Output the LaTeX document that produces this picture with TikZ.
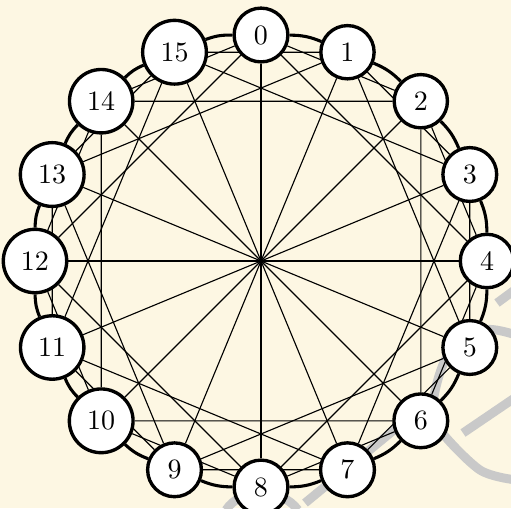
\documentclass[tikz,border=0pt]{standalone}
\usepackage{tikz}
\usetikzlibrary{backgrounds}
\usepackage{xcolor}
\definecolor{Cream}{HTML}{FDF7E3}
\definecolor{Stamp}{HTML}{C9C9C9}

\begin{document}
\begin{tikzpicture}[x=0.357pt,y=0.357pt,
    vertex/.style={circle,draw,very thick,fill=white,inner sep=3.8pt},
    ring/.style={line width=1.1pt},
    chord/.style={thin},
    stamp/.style={draw=Stamp,line width=3.2pt}]
    \useasboundingbox (-261,-247) rectangle (250,261);
    % vertices
    \foreach \i in {0,...,15}
      \node[vertex] (n\i) at ({90-22.5*\i}:226) {\i};
    \begin{scope}[on background layer]
      % page and watermark strokes
      \fill[Cream] (-261,-247) rectangle (250,261);
      \begin{scope}
        \clip (-261,-247) rectangle (250,261);
        \path[stamp] (-35,-249) .. controls (-20,-226) and (20,-226) .. (37,-249);
        \path[stamp] (44,-242) -- (139,-164);
        \path[stamp] plot[smooth] coordinates {(255,-74) (222,-69) (186,-96) (172,-142) (179,-169) (219,-209) (255,-219)};
        \path[stamp] (255,-136) -- (202,-172);
        \path[stamp] (255,-28) -- (236,-42);
      \end{scope}
      % edges
      \foreach \i in {0,...,15}{
        \pgfmathtruncatemacro{\a}{mod(\i+1,16)}
        \pgfmathtruncatemacro{\b}{mod(\i+2,16)}
        \pgfmathtruncatemacro{\c}{mod(\i+4,16)}
        \draw[ring] (n\i) to[bend left=11] (n\a);
        \draw[chord] (n\i) -- (n\b) (n\i) -- (n\c);
      }
      \foreach \i in {0,...,7}{
        \pgfmathtruncatemacro{\d}{\i+8}
        \draw[chord] (n\i) -- (n\d);
      }
    \end{scope}
  \end{tikzpicture}
\end{document}
